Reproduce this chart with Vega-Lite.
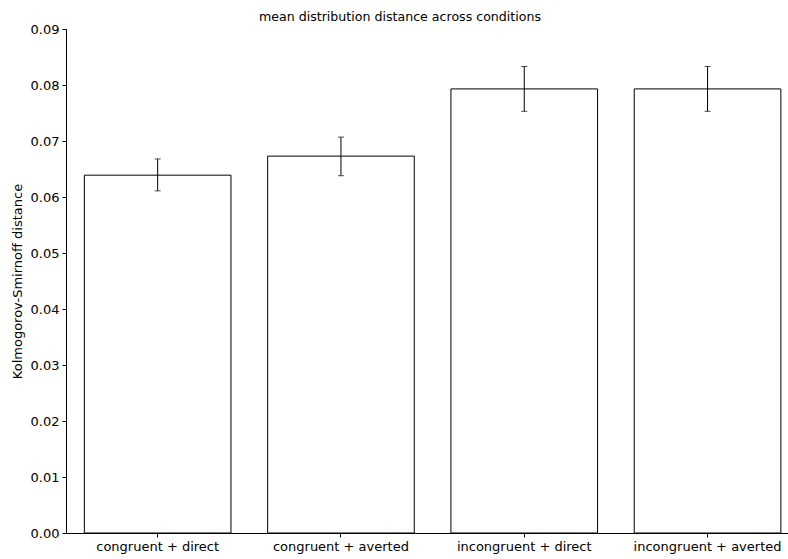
{
  "$schema": "https://vega.github.io/schema/vega-lite/v6.json",
  "width": 722,
  "height": 504,
  "autosize": {"type": "none"},
  "padding": {"left": 66, "top": 29, "right": 0, "bottom": 26},
  "background": "white",
  "title": {"text": "mean distribution distance across conditions", "fontSize": 12.6, "font": "DejaVu Sans", "fontWeight": "normal", "color": "black", "offset": -1, "anchor": "middle", "dx": -27},
  "config": {"view": {"stroke": null}},
  "data": {"values": [
    {"condition": "congruent + direct", "mean": 0.0639, "lo": 0.0611, "hi": 0.0668},
    {"condition": "congruent + averted", "mean": 0.0673, "lo": 0.0638, "hi": 0.0707},
    {"condition": "incongruent + direct", "mean": 0.0793, "lo": 0.0753, "hi": 0.0833},
    {"condition": "incongruent + averted", "mean": 0.0793, "lo": 0.0753, "hi": 0.0833}
  ]},
  "encoding": {
    "x": {"field": "condition", "type": "nominal", "sort": null,
      "scale": {"paddingInner": 0.2, "paddingOuter": 0.0695, "align": 0.72},
      "axis": {"title": null, "labelAngle": 0, "labelFont": "DejaVu Sans", "labelFontSize": 13, "labelColor": "black", "domainColor": "black", "tickColor": "black", "tickSize": 4, "labelPadding": 3}}
  },
  "layer": [
    {"mark": {"type": "bar", "fill": "white", "stroke": "black", "strokeWidth": 1},
     "encoding": {"y": {"field": "mean", "type": "quantitative",
       "scale": {"domain": [0, 0.09], "nice": false},
       "axis": {"title": "Kolmogorov-Smirnoff distance", "titleFont": "DejaVu Sans", "titleFontSize": 13, "titleFontWeight": "normal", "titleColor": "black", "titlePadding": 6,
         "values": [0, 0.01, 0.02, 0.03, 0.04, 0.05, 0.06, 0.07, 0.08, 0.09], "format": ".2f", "grid": false,
         "labelFont": "DejaVu Sans", "labelFontSize": 13, "labelColor": "black", "domainColor": "black", "tickColor": "black", "tickSize": 4, "labelPadding": 3}}}},
    {"mark": {"type": "rule", "color": "black", "strokeWidth": 1},
     "encoding": {"y": {"field": "lo", "type": "quantitative"}, "y2": {"field": "hi"}}},
    {"mark": {"type": "tick", "color": "black", "size": 6, "thickness": 1, "orient": "horizontal"},
     "encoding": {"y": {"field": "lo", "type": "quantitative"}}},
    {"mark": {"type": "tick", "color": "black", "size": 6, "thickness": 1, "orient": "horizontal"},
     "encoding": {"y": {"field": "hi", "type": "quantitative"}}}
  ]
}
